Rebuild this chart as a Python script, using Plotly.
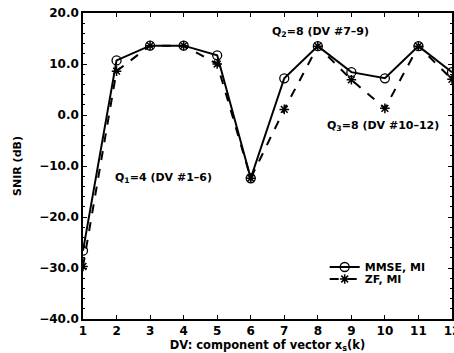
import plotly.graph_objects as go

dv = [1, 2, 3, 4, 5, 6, 7, 8, 9, 10, 11, 12]
mmse_mi = [-26.6, 10.7, 13.6, 13.6, 11.7, -12.4, 7.2, 13.5, 8.4, 7.2, 13.5, 8.4]
zf_mi = [-29.7, 8.6, 13.6, 13.6, 10.0, -12.4, 1.1, 13.5, 6.9, 1.3, 13.5, 7.0]
y_ticks = [-40, -30, -20, -10, 0, 10, 20]
y_tick_labels = ["\u221240.0", "\u221230.0", "\u221220.0", "\u221210.0", "0.0", "10.0", "20.0"]

FONT = "DejaVu Sans"

fig = go.Figure()
fig.add_trace(go.Scatter(
    x=dv, y=mmse_mi, mode="lines+markers", name="<b>MMSE, MI</b>",
    line=dict(color="black", width=2),
    marker=dict(symbol="circle-open", size=9, color="black", line=dict(width=1.3)),
    legend="legend",
))
fig.add_trace(go.Scatter(
    x=dv, y=zf_mi, mode="lines+markers", name="<b>ZF, MI</b>",
    line=dict(color="black", width=2, dash="dash"),
    marker=dict(symbol="asterisk-open", size=8, color="black", line=dict(width=1.5)),
    legend="legend2",
))

ann_font = dict(family=FONT, size=11, color="black")
fig.add_annotation(x=1.9, y=-12.4, xref="x", yref="y", text="<b>Q<sub>1</sub>=4 (DV #1\u20136)</b>",
                   showarrow=False, xanchor="left", yanchor="middle", font=ann_font)
fig.add_annotation(x=6.58, y=16.3, xref="x", yref="y", text="<b>Q<sub>2</sub>=8 (DV #7\u20139)</b>",
                   showarrow=False, xanchor="left", yanchor="middle", font=ann_font)
fig.add_annotation(x=8.22, y=-2.2, xref="x", yref="y", text="<b>Q<sub>3</sub>=8 (DV #10\u201312)</b>",
                   showarrow=False, xanchor="left", yanchor="middle", font=ann_font)

axis_common = dict(
    showline=True, linecolor="black", linewidth=1.5, mirror="ticks",
    ticks="inside", ticklen=4, tickwidth=1, tickcolor="black",
    showgrid=False, zeroline=False, automargin=False, ticklabeloverflow="allow",
    tickfont=dict(family=FONT, size=12, color="black"),
)

fig.update_xaxes(
    range=[1, 12], tickmode="array", tickvals=dv,
    ticktext=[f"<b>{v}</b>" for v in dv],
    title=dict(text="<b>DV: component of vector x<sub>s</sub>(k)</b>",
               font=dict(family=FONT, size=11.5, color="black")),
    **axis_common,
)
fig.update_yaxes(
    range=[-40, 20], tickmode="array", tickvals=y_ticks,
    ticktext=[f"<b>{t}</b>" for t in y_tick_labels],
    title=dict(text="<b>SNIR (dB)</b>", font=dict(family=FONT, size=11, color="black")),
    minor=dict(ticks="inside", ticklen=2, tickcolor="black", dtick=2, showgrid=False),
    **axis_common,
)

leg_common = dict(xanchor="left", yanchor="middle", bgcolor="rgba(0,0,0,0)",
                  font=dict(family=FONT, size=11, color="black"), itemwidth=30)
fig.update_layout(
    width=454, height=353,
    margin=dict(l=83, r=2, t=13, b=34),
    paper_bgcolor="white", plot_bgcolor="white",
    showlegend=True,
    legend=dict(x=0.655, y=(319 - 267) / 306, **leg_common),
    legend2=dict(x=0.655, y=(319 - 279) / 306, **leg_common),
    font=dict(family=FONT, color="black"),
)

fig.write_html("out.html", config={"displayModeBar": False},
               post_script="document.body.style.margin='0px';")
